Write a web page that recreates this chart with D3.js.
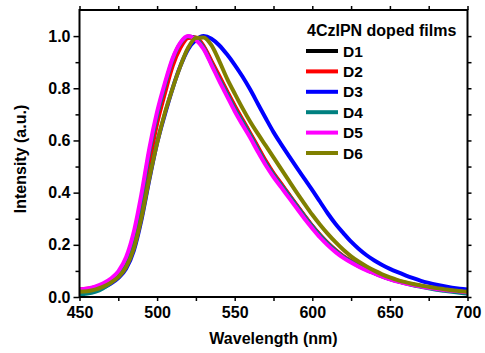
<!DOCTYPE html>
<html>
<head>
<meta charset="utf-8">
<script src="https://cdn.jsdelivr.net/npm/d3@7"></script>
<style>
  html, body { margin: 0; padding: 0; background: #fff; }
  svg text { font-family: "Liberation Sans", Arial, sans-serif; font-weight: bold; fill: #000; }
  .axis path { display: none; }
  .axis line { stroke: #000; stroke-width: 1.5; }
</style>
</head>
<body>
<div id="chart"></div>
<script>
// ── Data ────────────────────────────────────────────
const wavelengths = [
  450,455,460,465,470,475,480,485,490,495,500,505,510,515,520,525,530,535,540,545,
  550,555,560,565,570,575,580,585,590,595,600,605,610,615,620,625,630,635,640,645,
  650,655,660,665,670,675,680,685,690,695,700
];

const d1 = [.020,.023,.030,.042,.060,.088,.136,.225,.370,.540,.680,.795,.898,.965,.997,.993,.958,.900,.842,.785,
  .728,.676,.624,.570,.517,.471,.431,.390,.350,.310,.271,.236,.205,.178,.155,.136,.119,.105,.092,.080,
  .070,.061,.053,.047,.041,.036,.031,.027,.024,.021,.018];
const d2 = [.030,.032,.038,.048,.064,.090,.135,.220,.355,.515,.665,.780,.885,.955,.993,.995,.962,.905,.848,.790,
  .733,.680,.628,.575,.522,.475,.434,.393,.352,.312,.273,.238,.207,.180,.157,.138,.121,.107,.094,.082,
  .072,.063,.055,.048,.042,.037,.033,.029,.026,.023,.020];
const d3s = [.020,.022,.027,.036,.051,.073,.108,.178,.298,.450,.590,.700,.800,.885,.950,.985,1.00,.990,.965,.930,
  .890,.845,.795,.740,.685,.632,.585,.540,.496,.453,.410,.365,.320,.280,.245,.212,.184,.160,.140,.123,
  .108,.095,.083,.072,.062,.054,.047,.041,.036,.032,.029];
const d4 = [.010,.013,.020,.033,.054,.086,.136,.230,.380,.555,.695,.810,.910,.972,.998,.990,.955,.895,.836,.780,
  .722,.672,.620,.566,.513,.468,.428,.388,.348,.308,.270,.235,.204,.177,.154,.135,.118,.104,.091,.079,
  .069,.060,.052,.045,.039,.033,.028,.024,.020,.016,.012];
const d5 = [.030,.033,.040,.052,.070,.098,.152,.250,.398,.570,.710,.820,.915,.975,1.00,.985,.950,.890,.828,.770,
  .712,.660,.610,.556,.505,.460,.420,.380,.340,.300,.263,.228,.198,.172,.150,.132,.116,.102,.090,.078,
  .068,.059,.052,.046,.040,.035,.031,.027,.024,.021,.018];
const d6 = [.020,.022,.028,.039,.054,.076,.114,.185,.305,.455,.590,.705,.800,.885,.955,.993,.995,.965,.905,.838,
  .780,.724,.672,.625,.580,.535,.490,.445,.400,.357,.315,.277,.242,.210,.181,.156,.135,.117,.101,.087,
  .075,.065,.057,.050,.044,.039,.034,.030,.026,.023,.020];

const seriesNames  = ["D1", "D2", "D3", "D4", "D5", "D6"];
const seriesValues = [d1, d2, d3s, d4, d5, d6];
const seriesColors = ["#000000", "#ff0000", "#0000ff", "#008080", "#ff00ff", "#808000"];

const xMajor = [450, 500, 550, 600, 650, 700];
const xMinor = [475, 525, 575, 625, 675];
const yMajor = [0, 0.2, 0.4, 0.6, 0.8, 1.0];
const yMinor = [0.1, 0.3, 0.5, 0.7, 0.9];

const legendTitle = "4CzIPN doped films";
const xTitle = "Wavelength (nm)";
const yTitle = "Intensity (a.u.)";

// ── Layout ──────────────────────────────────────────
const W = 485, H = 353;
const margin = { left: 79.5, right: 467.5, top: 10, bottom: 297 };

const svg = d3.select("#chart").append("svg")
  .attr("width", W)
  .attr("height", H);

const x = d3.scaleLinear().domain([450, 700]).range([margin.left, margin.right]);
const y = d3.scaleLinear().domain([0, 1.1]).range([margin.bottom, margin.top]);

// ── Axes ────────────────────────────────────────────
const gx = svg.append("g").attr("class", "axis")
  .attr("transform", `translate(0,${margin.bottom})`)
  .call(d3.axisBottom(x).tickValues(xMajor).tickSize(4).tickPadding(6).tickFormat(d3.format("d")));
gx.selectAll("text").attr("font-size", 16);
svg.append("g").attr("class", "axis")
  .attr("transform", `translate(0,${margin.bottom})`)
  .call(d3.axisBottom(x).tickValues(xMinor).tickSize(4).tickFormat(""));

svg.append("g").attr("class", "axis")
  .attr("transform", `translate(0,${margin.top})`)
  .call(d3.axisTop(x).tickValues(xMajor.concat(xMinor)).tickSize(4).tickFormat(""));

const gy = svg.append("g").attr("class", "axis")
  .attr("transform", `translate(${margin.left},0)`)
  .call(d3.axisLeft(y).tickValues(yMajor).tickSize(6).tickPadding(3).tickFormat(d3.format(".1f")));
gy.selectAll("text").attr("font-size", 16);
svg.append("g").attr("class", "axis")
  .attr("transform", `translate(${margin.left},0)`)
  .call(d3.axisLeft(y).tickValues(yMinor).tickSize(4).tickFormat(""));

svg.append("g").attr("class", "axis")
  .attr("transform", `translate(${margin.right},0)`)
  .call(d3.axisRight(y).tickValues(yMajor.concat(yMinor)).tickSize(4).tickFormat(""));

// ── Curves ──────────────────────────────────────────
const line = d3.line()
  .x((d, i) => x(wavelengths[i]))
  .y(d => y(d))
  .curve(d3.curveMonotoneX);

svg.append("clipPath").attr("id", "plot-clip")
  .append("rect")
  .attr("x", margin.left).attr("y", margin.top)
  .attr("width", margin.right - margin.left).attr("height", margin.bottom - margin.top);

seriesValues.forEach((vals, i) => {
  svg.append("path")
    .datum(vals)
    .attr("clip-path", "url(#plot-clip)")
    .attr("fill", "none")
    .attr("stroke", seriesColors[i])
    .attr("stroke-width", 4)
    .attr("stroke-linejoin", "round")
    .attr("d", line);
});

// Frame
svg.append("rect")
  .attr("x", margin.left).attr("y", margin.top)
  .attr("width", margin.right - margin.left).attr("height", margin.bottom - margin.top)
  .attr("fill", "none")
  .attr("stroke", "#000")
  .attr("stroke-width", 2);

// ── Legend ──────────────────────────────────────────
svg.append("text")
  .attr("x", 307).attr("y", 36)
  .attr("font-size", 16)
  .text(legendTitle);

const legend = svg.append("g");
seriesNames.forEach((name, i) => {
  const cy = 51 + i * 20.4;
  legend.append("line")
    .attr("x1", 306).attr("x2", 338)
    .attr("y1", cy).attr("y2", cy)
    .attr("stroke", seriesColors[i])
    .attr("stroke-width", 4);
  legend.append("text")
    .attr("x", 343).attr("y", cy + 5.5)
    .attr("font-size", 15.5)
    .text(name);
});

// ── Titles ──────────────────────────────────────────
svg.append("text")
  .attr("x", (margin.left + margin.right) / 2).attr("y", 344)
  .attr("text-anchor", "middle")
  .attr("font-size", 16)
  .text(xTitle);

svg.append("text")
  .attr("transform", "translate(25.5,159) rotate(-90)")
  .attr("text-anchor", "middle")
  .attr("font-size", 16)
  .text(yTitle);
</script>
</body>
</html>
